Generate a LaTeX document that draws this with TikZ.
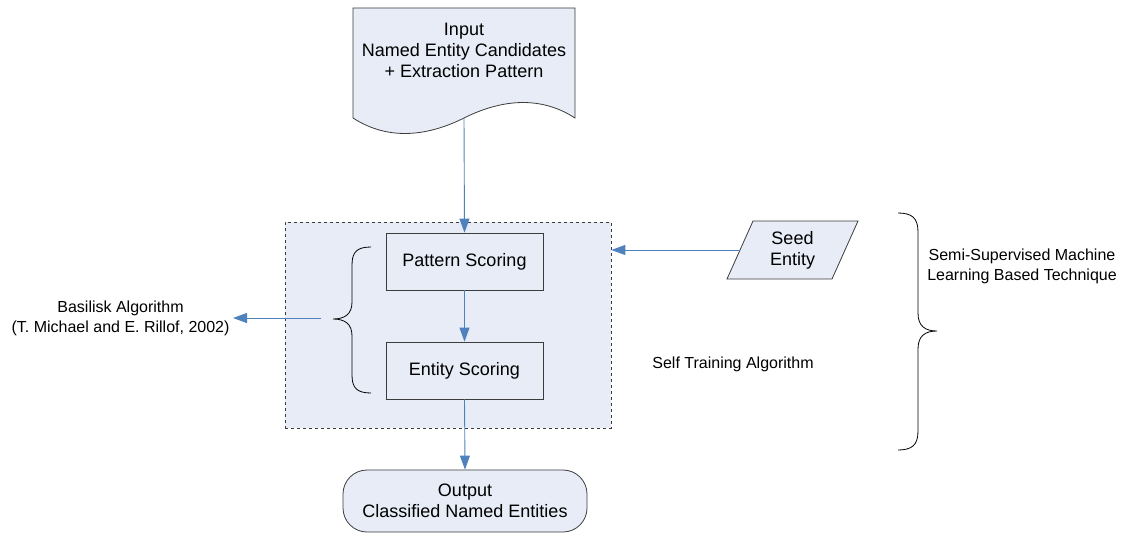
\documentclass[tikz,border=0pt]{standalone}
\usepackage{fontspec}
\setmainfont{Liberation Sans}
\usetikzlibrary{arrows.meta}
\definecolor{fillblue}{RGB}{231,236,247}
\definecolor{arrowblue}{RGB}{79,129,189}
\definecolor{edgegray}{RGB}{60,60,60}
\tikzset{
  mainfont/.style={font=\fontsize{18}{21}\selectfont},
  sidefont/.style={font=\fontsize{16}{20}\selectfont},
  procbox/.style={draw=edgegray, line width=0.8pt, minimum width=157pt, minimum height=57pt, inner sep=0pt, mainfont, align=center},
  flow/.style={draw=arrowblue, line width=0.9pt, -{Triangle[width=10pt,length=14pt]}},
  bracestyle/.style={draw=black, line width=0.8pt},
}
\begin{document}
\begin{tikzpicture}[x=1pt,y=-1pt]
\useasboundingbox (0,0) rectangle (1126,535);
% Input document shape
\draw[draw=edgegray, line width=0.8pt, fill=fillblue]
  (353,8) -- (575,8) -- (575,118)
  .. controls (538,94) and (498,101) .. (464,118)
  .. controls (430,135) and (390,142) .. (353,118) -- cycle;
\node[mainfont, align=center] (input) at (464,50) {Input\\Named Entity Candidates\\+ Extraction Pattern};
\coordinate (docbottom) at (464,118);
% container
\node[draw=edgegray, dashed, line width=0.7pt, fill=fillblue, minimum width=326pt, minimum height=206pt, inner sep=0pt] (container) at (448,325) {};
% process boxes
\node[procbox] (pattern) at (464.5,261.5) {Pattern Scoring};
\node[procbox] (entity) at (464.5,370.5) {Entity Scoring};
% output
\node[draw=edgegray, line width=0.8pt, fill=fillblue, rounded corners=24pt, minimum width=244pt, minimum height=62pt, inner sep=0pt, mainfont, align=center] (output) at (465,501) {Output\\Classified Named Entities};
% seed entity parallelogram
\draw[draw=edgegray, line width=0.8pt, fill=fillblue] (753,221) -- (858,221) -- (832,279) -- (727,279) -- cycle;
\node[mainfont, align=center] (seed) at (792.5,250) {Seed\\Entity};
\coordinate (seedleft) at (740,250);
% labels
\node[sidefont, align=center, anchor=east] (basilisk) at (233,318) {Basilisk Algorithm\\(T. Michael and E. Rillof, 2002)};
\node[sidefont] (selftrain) at (733,364) {Self Training Algorithm};
\node[sidefont, align=center] (semi) at (1022,266) {Semi-Supervised Machine\\Learning Based Technique};
% left brace
\draw[bracestyle] (371,247) .. controls (357,247) and (352,252) .. (352,265) -- (352,302)
  .. controls (352,314) and (345,319) .. (333,319)
  .. controls (345,319) and (352,324) .. (352,336) -- (352,375)
  .. controls (352,388) and (357,393) .. (371,393);
\coordinate (lbrace) at (321,318);
% right brace
\draw[bracestyle] (898,213) .. controls (912,213) and (918,218) .. (918,232) -- (918,313)
  .. controls (918,326) and (925,331) .. (937,331)
  .. controls (925,331) and (918,336) .. (918,349) -- (918,431)
  .. controls (918,445) and (912,450) .. (898,450);
% connectors
\draw[flow] (docbottom) -- (pattern.north);
\draw[flow] (pattern.south) -- (entity.north);
\draw[flow] (entity.south) -- (output.north);
\draw[flow] (seedleft) -- (container.east |- seedleft);
\draw[flow] (lbrace) -- (basilisk.east |- lbrace);
\end{tikzpicture}
\end{document}
